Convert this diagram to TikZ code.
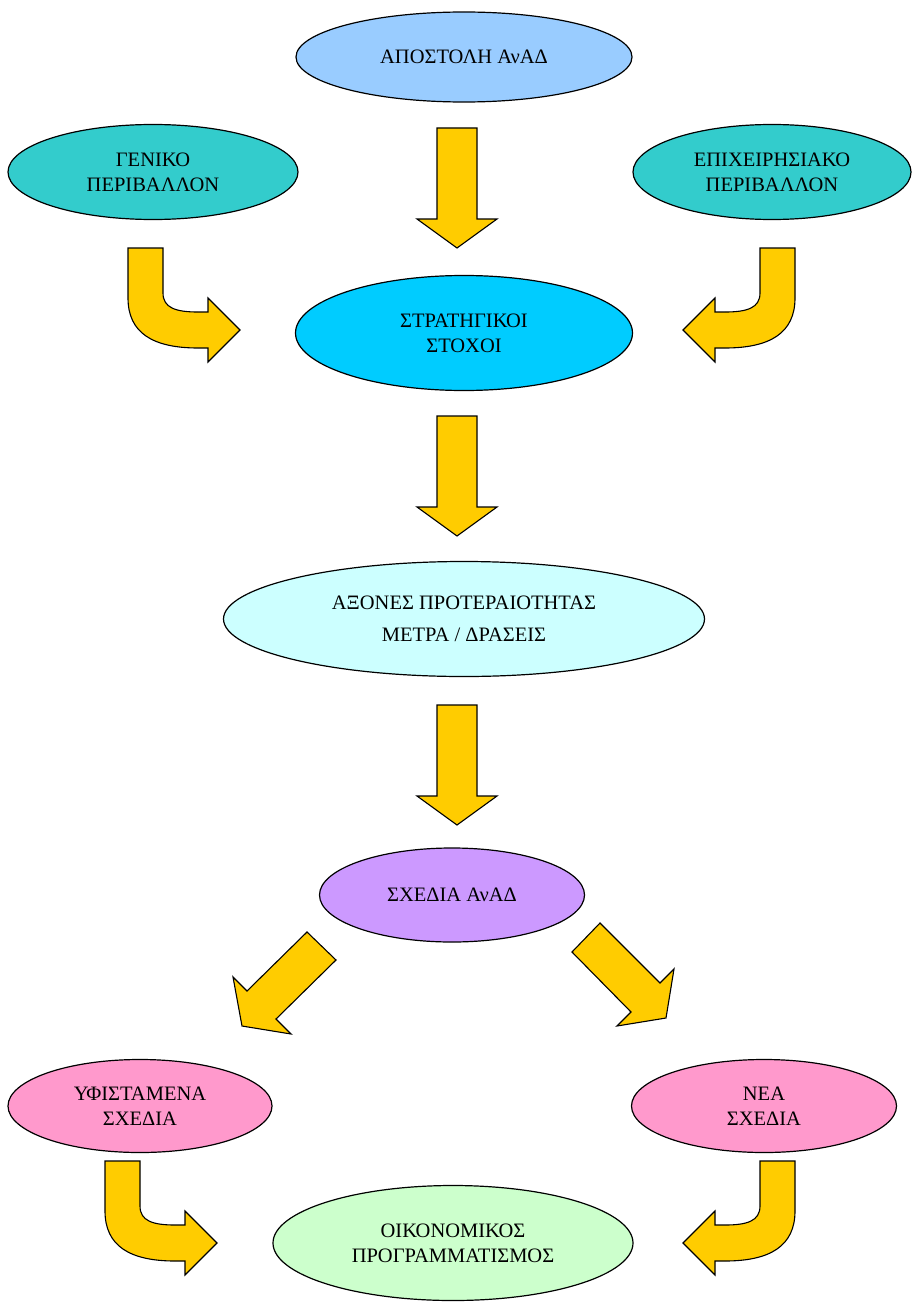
\documentclass[tikz,border=0pt]{standalone}
\usepackage{fontspec}
\setmainfont{Liberation Serif}
\usetikzlibrary{shapes.geometric}
\definecolor{missionblue}{HTML}{99CCFF}
\definecolor{envteal}{HTML}{33CCCC}
\definecolor{goalcyan}{HTML}{00CCFF}
\definecolor{axispale}{HTML}{CCFFFF}
\definecolor{planviolet}{HTML}{CC99FF}
\definecolor{planpink}{HTML}{FF99CC}
\definecolor{budgetgreen}{HTML}{CCFFCC}
\definecolor{arrowyellow}{HTML}{FFCC00}
\def\downblock(#1){\draw[block, shift={(#1)}] (-20, 0) -- (20, 0) -- (20, 91) -- (40, 91) -- (0, 120) -- (-40, 91) -- (-20, 91) -- cycle;}
\def\bentblock[#1](#2){\draw[block, shift={(#2)}, #1] (0, 0) -- (35, 0) -- (35, 45) .. controls (35, 60) and (48, 64) .. (70, 64) -- (80, 64) -- (80, 50) -- (112, 82) -- (80, 114) -- (80, 100) -- (70, 100) .. controls (25, 100) and (0, 85) .. (0, 50) -- cycle;}

\begin{document}
\begin{tikzpicture}[x=1pt, y=-1pt,
	oval/.style={ellipse, draw, line width=1.2pt, inner sep=0pt, align=center, font=\fontsize{20.5}{25}\selectfont},
	block/.style={draw, fill=arrowyellow, line width=1.1pt, line join=miter}]
			%%%%% START %%%%%
			
			\useasboundingbox (0, 0) rectangle (912, 1303);
			
			\node[oval, fill=missionblue, minimum width=336pt, minimum height=90pt] (apostoli) at (464, 57) {ΑΠΟΣΤΟΛΗ ΑνΑΔ};
			\node[oval, fill=envteal, minimum width=290pt, minimum height=95pt] (geniko) at (153, 172) {ΓΕΝΙΚΟ\\ΠΕΡΙΒΑΛΛΟΝ};
			\node[oval, fill=envteal, minimum width=278pt, minimum height=95pt] (epixeirisiako) at (772, 172) {ΕΠΙΧΕΙΡΗΣΙΑΚΟ\\ΠΕΡΙΒΑΛΛΟΝ};
			\node[oval, fill=goalcyan, minimum width=337pt, minimum height=115pt] (stoxoi) at (464, 333) {ΣΤΡΑΤΗΓΙΚΟΙ\\ΣΤΟΧΟΙ};
			\node[oval, fill=axispale, minimum width=481pt, minimum height=115pt] (axones) at (464, 619) {ΑΞΟΝΕΣ ΠΡΟΤΕΡΑΙΟΤΗΤΑΣ\\[7pt]ΜΕΤΡΑ / ΔΡΑΣΕΙΣ};
			\node[oval, fill=planviolet, minimum width=265pt, minimum height=94pt] (sxedia) at (452, 895) {ΣΧΕΔΙΑ ΑνΑΔ};
			\node[oval, fill=planpink, minimum width=264pt, minimum height=93pt] (yfistamena) at (140, 1106) {ΥΦΙΣΤΑΜΕΝΑ\\ΣΧΕΔΙΑ};
			\node[oval, fill=planpink, minimum width=265pt, minimum height=93pt] (nea) at (764, 1106) {ΝΕΑ\\ΣΧΕΔΙΑ};
			\node[oval, fill=budgetgreen, minimum width=360pt, minimum height=115pt] (oikonomikos) at (453, 1243) {ΟΙΚΟΝΟΜΙΚΟΣ\\ΠΡΟΓΡΑΜΜΑΤΙΣΜΟΣ};
			
			% straight arrows down the middle
			\downblock(457, 128);
			\downblock(457, 416);
			\downblock(457, 705);
			
			% bent arrows into the goals and the budget
			\bentblock[](128, 248);
			\bentblock[xscale=-1](795, 248);
			\bentblock[](105, 1161);
			\bentblock[xscale=-1](795, 1161);
			
			% diagonal arrows out of the plans
			\draw[block] (307, 932) -- (336, 960) -- (276, 1019) -- (291, 1034) -- (242, 1026) -- (233, 977) -- (247, 991) -- cycle;
			\draw[block] (600, 923) -- (572, 952) -- (631, 1012) -- (617, 1026) -- (666, 1018) -- (674, 969) -- (660, 983) -- cycle;
			
			%%%%% END %%%%%
		\end{tikzpicture}
\end{document}
